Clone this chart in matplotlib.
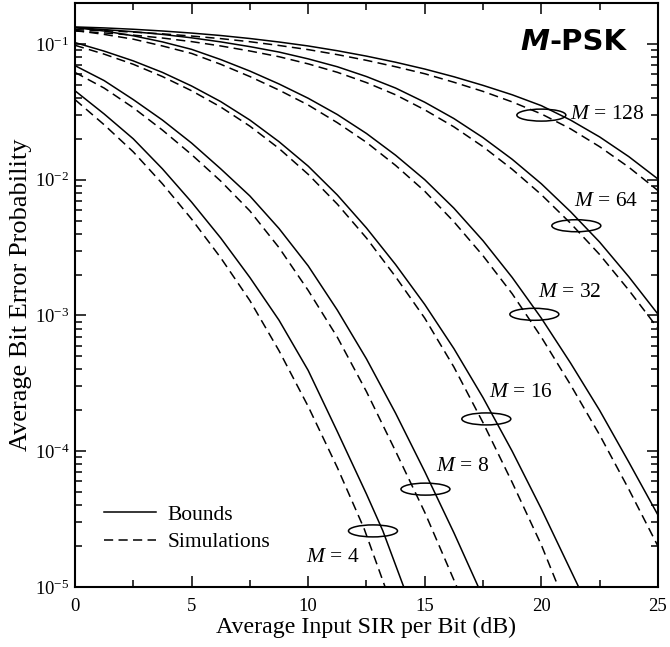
import matplotlib
matplotlib.use("Agg")
import matplotlib.pyplot as plt
from matplotlib.patches import Ellipse
from matplotlib.transforms import ScaledTranslation
from matplotlib.ticker import LogLocator, FuncFormatter, MultipleLocator, NullFormatter
from matplotlib.lines import Line2D
import numpy as np

# ---------------- data ----------------
snr_hi = [0, 1.25, 2.5, 3.75, 5, 6.25, 7.5, 8.75, 10, 11.25, 12.5, 13.75,
          15, 16.25, 17.5, 18.75, 20, 21.25, 22.5, 23.75, 25]

bound_128 = [0.1334, 0.1312, 0.1282, 0.1245, 0.1202, 0.1153, 0.1096, 0.1033, 0.0966, 0.0891, 0.0813,
             0.0733, 0.0653, 0.0573, 0.0495, 0.0422, 0.0351, 0.0275, 0.02065, 0.01479, 0.01012]
sim_128 = [0.1274, 0.1253, 0.1222, 0.1186, 0.1143, 0.1094, 0.1038, 0.0974, 0.0908, 0.0834, 0.0757,
           0.0679, 0.0603, 0.0522, 0.0447, 0.0374, 0.0305, 0.0237, 0.0175, 0.01236, 0.00832]

bound_64 = [0.1318, 0.1276, 0.1230, 0.1175, 0.1109, 0.1035, 0.0955, 0.0871, 0.0776, 0.0679, 0.0575,
            0.0473, 0.0372, 0.0282, 0.0204, 0.01413, 0.00933, 0.00582, 0.00347, 0.001928, 0.001023]
sim_64 = [0.1245, 0.1205, 0.1161, 0.1105, 0.1040, 0.0966, 0.0887, 0.0805, 0.0713, 0.0618, 0.0519,
          0.0422, 0.0327, 0.0245, 0.0175, 0.01193, 0.00776, 0.00478, 0.00281, 0.001537, 8.04e-4]

bound_32 = [0.1318, 0.1245, 0.1148, 0.1035, 0.0912, 0.0767, 0.0631, 0.0507, 0.0398, 0.0302, 0.0219,
            0.01514, 0.0100, 0.00617, 0.00355, 0.001905, 9.55e-4, 4.47e-4, 2.00e-4, 8.32e-5, 3.39e-5]
sim_32 = [0.1259, 0.1175, 0.1084, 0.0966, 0.0851, 0.0708, 0.0575, 0.0457, 0.0355, 0.0263, 0.01884,
          0.01274, 0.00822, 0.00490, 0.00275, 0.001445, 6.92e-4, 3.09e-4, 1.318e-4, 5.25e-5, 2.0e-5]

snr_16_bound = [0, 1.25, 2.5, 3.75, 5, 6.25, 7.5, 8.75, 10, 11.25, 12.5, 13.75,
                15, 16.25, 17.5, 18.75, 20, 21.6]
bound_16 = [0.1023, 0.0885, 0.0750, 0.0617, 0.0490, 0.0376, 0.0275, 0.01905, 0.01259, 0.00772,
            0.00441, 0.00237, 0.001205, 5.70e-4, 2.48e-4, 1.0e-4, 3.76e-5, 1.0e-5]
snr_16_sim = [0, 1.25, 2.5, 3.75, 5, 6.25, 7.5, 8.75, 10, 11.25, 12.5, 13.75,
              15, 16.25, 17.5, 18.75, 20, 20.73]
sim_16 = [0.0977, 0.0841, 0.0708, 0.0575, 0.0452, 0.0343, 0.0248, 0.01698, 0.01096, 0.00661,
          0.00372, 0.001928, 9.55e-4, 4.17e-4, 1.622e-4, 5.89e-5, 2.04e-5, 1.0e-5]

snr_8_bound = [0, 1.25, 2.5, 3.75, 5, 6.25, 7.5, 8.75, 10, 11.25, 12.5, 13.75, 15, 16.25, 17.3]
bound_8 = [0.0692, 0.0537, 0.0389, 0.0275, 0.01862, 0.01202, 0.00759, 0.00437, 0.00232, 0.001096,
           4.79e-4, 1.905e-4, 7.08e-5, 2.51e-5, 1.0e-5]
snr_8_sim = [0, 1.25, 2.5, 3.75, 5, 6.25, 7.5, 8.75, 10, 11.25, 12.5, 13.75, 15, 16.38]
sim_8 = [0.0617, 0.0473, 0.0339, 0.0232, 0.01531, 0.00977, 0.00589, 0.00316, 0.001531, 6.92e-4,
         2.75e-4, 1.0e-4, 3.55e-5, 1.0e-5]

snr_4_bound = [0, 1.25, 2.5, 3.75, 5, 6.25, 7.5, 8.75, 10, 11.25, 12.5, 13.2, 14.1]
bound_4 = [0.0452, 0.0305, 0.0200, 0.01202, 0.00684, 0.00372, 0.001905, 9.23e-4, 3.94e-4, 1.396e-4,
           4.84e-5, 2.60e-5, 1.0e-5]
snr_4_sim = [0, 1.25, 2.5, 3.75, 5, 6.25, 7.5, 8.75, 10, 11.25, 12.4, 13.3]
sim_4 = [0.0389, 0.0254, 0.01603, 0.00933, 0.00513, 0.00266, 0.001288, 5.50e-4, 2.14e-4, 7.59e-5,
         2.69e-5, 1.0e-5]

m_values = [128, 64, 32, 16, 8, 4]
legend_labels = ["Bounds", "Simulations"]
x_label = "Average Input SIR per Bit (dB)"
y_label = "Average Bit Error Probability"

# annotation positions (ellipse centre, label anchor)
ellipse_pos = {128: (20.0, 0.0299), 64: (21.5, 0.00458), 32: (19.7, 0.00102),
               16: (17.64, 1.73e-4), 8: (15.03, 5.26e-5), 4: (12.78, 2.59e-5)}
label_pos = {128: (21.24, 0.0304), 64: (21.41, 0.00693), 32: (19.87, 0.00148),
             16: (17.74, 2.70e-4), 8: (15.47, 7.69e-5), 4: (9.91, 1.64e-5)}

# ---------------- style ----------------
plt.rcParams["font.family"] = ["Liberation Serif", "DejaVu Serif"]
plt.rcParams["mathtext.fontset"] = "custom"
plt.rcParams["mathtext.rm"] = "Liberation Serif"
plt.rcParams["mathtext.it"] = "Liberation Serif:italic"
plt.rcParams["mathtext.bf"] = "Liberation Serif:bold"

fig = plt.figure(figsize=(6.70, 6.47), dpi=100)
ax = fig.add_axes([0.1119, 0.0927, 0.8701, 0.9026])

lw = 1.1
dash = (0, (6, 3.5))
series = [
    (snr_hi, bound_128, snr_hi, sim_128),
    (snr_hi, bound_64, snr_hi, sim_64),
    (snr_hi, bound_32, snr_hi, sim_32),
    (snr_16_bound, bound_16, snr_16_sim, sim_16),
    (snr_8_bound, bound_8, snr_8_sim, sim_8),
    (snr_4_bound, bound_4, snr_4_sim, sim_4),
]
for xb, yb, xs, ys in series:
    ax.plot(xb, yb, color="black", lw=lw, solid_joinstyle="round")
    ax.plot(xs, ys, color="black", lw=lw, linestyle=dash)

ax.set_yscale("log")
ax.set_xlim(0, 25)
ax.set_ylim(1e-5, 0.2)

# ellipses (fixed size in inches, centred at data points) and labels
for m in m_values:
    cx, cy = ellipse_pos[m]
    e = Ellipse((0, 0), 0.49, 0.12, fill=False, lw=1.1, color="black",
                transform=fig.dpi_scale_trans + ScaledTranslation(cx, cy, ax.transData))
    ax.add_artist(e)
    lx, ly = label_pos[m]
    ax.text(lx, ly, rf"$M$ = {m}", fontsize=15.5, ha="left", va="center")

# M-PSK heading
t1 = ax.text(19.1, 0.1035, "M", fontsize=21, fontweight="heavy", style="italic",
             family="DejaVu Sans", ha="left", va="center")
ax.annotate("-PSK", xy=(1, 0.5), xycoords=t1, fontsize=21, fontweight="heavy",
            family="DejaVu Sans", ha="left", va="center")

# ticks
ax.xaxis.set_major_locator(MultipleLocator(5))
ax.xaxis.set_minor_locator(MultipleLocator(2.5))
ax.yaxis.set_major_locator(LogLocator(base=10, numticks=10))
ax.yaxis.set_minor_locator(LogLocator(base=10, subs=np.arange(2, 10), numticks=20))
ax.yaxis.set_minor_formatter(NullFormatter())
ax.yaxis.set_major_formatter(FuncFormatter(lambda v, p: rf"$10^{{{int(round(np.log10(v)))}}}$"))
ax.xaxis.set_major_formatter(FuncFormatter(lambda v, p: f"{int(round(v))}"))

ax.tick_params(which="both", direction="in", top=True, right=True, width=1.1)
ax.tick_params(which="major", length=8)
ax.tick_params(which="minor", length=5)
ax.tick_params(axis="x", which="major", pad=8, labelsize=13.5)
ax.tick_params(axis="y", which="major", pad=4, labelsize=13.5)
for s in ax.spines.values():
    s.set_linewidth(1.5)

ax.set_xlabel(x_label, fontsize=17.2, labelpad=1)
ax.set_ylabel(y_label, fontsize=19, labelpad=2)

handles = [Line2D([], [], color="black", lw=lw),
           Line2D([], [], color="black", lw=lw, linestyle=dash)]
ax.legend(handles, legend_labels, loc="upper left", bbox_to_anchor=(0.05, 0.141),
          frameon=False, fontsize=15.5, handlelength=2.4, handletextpad=0.55,
          labelspacing=0.35, borderpad=0, borderaxespad=0)

fig.savefig("out.png", dpi=100)
